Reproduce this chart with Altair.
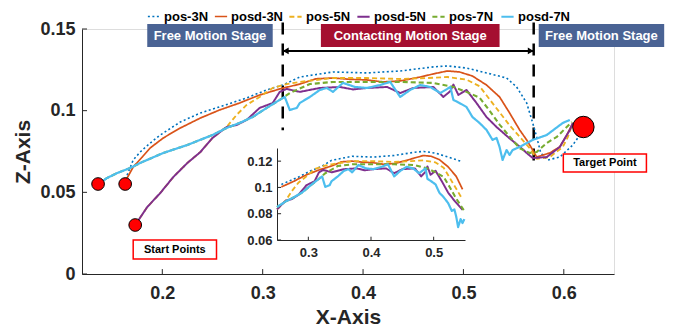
import altair as alt
import pandas as pd

# ---------------- data ----------------
series_names = ["pos-3N", "posd-3N", "pos-5N", "posd-5N", "pos-7N", "posd-7N"]

pos3_x = [0.163,0.165,0.171,0.178,0.188,0.198,0.218,0.238,0.257,0.284,0.304,0.320,0.337,0.370,0.404,0.437,0.470,0.484,0.503,0.523,0.543,0.553,0.563,0.569,0.573,0.577,0.584,0.596,0.609,0.616]
pos3_y = [0.0551,0.0606,0.0698,0.0747,0.0802,0.0851,0.0931,0.0986,0.1023,0.1078,0.1127,0.1157,0.1206,0.1237,0.1231,0.1243,0.1268,0.1274,0.1261,0.1231,0.1200,0.1145,0.1047,0.0925,0.0839,0.0741,0.0698,0.0716,0.0790,0.0851]

posd3_x = [0.163,0.165,0.171,0.180,0.188,0.201,0.218,0.238,0.257,0.277,0.297,0.317,0.337,0.353,0.370,0.387,0.404,0.420,0.437,0.447,0.457,0.470,0.484,0.496,0.509,0.523,0.536,0.546,0.556,0.563,0.569,0.573,0.586,0.596,0.603,0.608]
posd3_y = [0.0551,0.0588,0.0655,0.0716,0.0772,0.0833,0.0894,0.0955,0.1004,0.1047,0.1096,0.1133,0.1163,0.1195,0.1200,0.1192,0.1188,0.1176,0.1182,0.1194,0.1206,0.1225,0.1243,0.1237,0.1212,0.1157,0.1084,0.0986,0.0882,0.0821,0.0759,0.0716,0.0741,0.0778,0.0851,0.0912]

pos5_x = [0.173,0.185,0.198,0.211,0.225,0.238,0.250,0.264,0.274,0.284,0.297,0.310,0.324,0.337,0.370,0.404,0.437,0.464,0.484,0.503,0.516,0.526,0.536,0.546,0.556,0.566,0.573,0.586,0.599,0.604,0.609]
pos5_y = [0.0300,0.0410,0.0496,0.0594,0.0680,0.0747,0.0833,0.0900,0.0974,0.1035,0.1084,0.1139,0.1163,0.1176,0.1200,0.1200,0.1194,0.1200,0.1206,0.1190,0.1150,0.1070,0.0990,0.0910,0.0840,0.0770,0.0705,0.0716,0.0778,0.0839,0.0925]

posd5_x = [0.173,0.185,0.198,0.211,0.225,0.238,0.250,0.264,0.274,0.284,0.297,0.310,0.317,0.324,0.337,0.357,0.377,0.390,0.404,0.424,0.437,0.450,0.470,0.480,0.487,0.490,0.495,0.503,0.513,0.523,0.533,0.546,0.556,0.563,0.569,0.583,0.596,0.606,0.609]
posd5_y = [0.0300,0.0410,0.0496,0.0594,0.0680,0.0747,0.0833,0.0900,0.0912,0.0943,0.1017,0.1047,0.1115,0.1133,0.1115,0.1139,0.1145,0.1130,0.1139,0.1145,0.1108,0.1139,0.1145,0.1084,0.1120,0.1160,0.1096,0.1127,0.1047,0.0961,0.0900,0.0830,0.0780,0.0741,0.0710,0.0716,0.0778,0.0882,0.0925]

pos7_x = [0.136,0.145,0.155,0.168,0.178,0.201,0.225,0.250,0.264,0.277,0.290,0.304,0.317,0.327,0.347,0.370,0.404,0.437,0.470,0.490,0.503,0.516,0.526,0.536,0.549,0.556,0.566,0.573,0.583,0.593,0.598,0.608]
pos7_y = [0.0551,0.0588,0.0618,0.0649,0.0680,0.0741,0.0790,0.0851,0.0894,0.0925,0.0961,0.1017,0.1066,0.1108,0.1163,0.1176,0.1176,0.1176,0.1170,0.1145,0.1115,0.1080,0.1000,0.0915,0.0820,0.0770,0.0741,0.0747,0.0802,0.0839,0.0870,0.0931]

posd7_x = [0.136,0.145,0.155,0.168,0.178,0.201,0.225,0.250,0.264,0.277,0.290,0.304,0.317,0.322,0.327,0.334,0.337,0.347,0.357,0.364,0.370,0.380,0.392,0.404,0.417,0.427,0.437,0.447,0.457,0.467,0.477,0.487,0.490,0.496,0.503,0.509,0.516,0.523,0.529,0.533,0.536,0.539,0.543,0.546,0.549,0.556,0.569,0.583,0.599,0.606]
posd7_y = [0.0551,0.0588,0.0618,0.0649,0.0680,0.0741,0.0790,0.0851,0.0894,0.0925,0.0961,0.1017,0.1066,0.1084,0.1004,0.1017,0.1047,0.1084,0.1127,0.1139,0.1115,0.1170,0.1145,0.1139,0.1157,0.1176,0.1084,0.1127,0.1157,0.1145,0.1108,0.1145,0.1066,0.1047,0.1023,0.0961,0.0925,0.0882,0.0821,0.0833,0.0778,0.0698,0.0759,0.0729,0.0759,0.0778,0.0821,0.0851,0.0925,0.0943]

start_x = [0.136, 0.163, 0.173]
start_y = [0.0551, 0.0551, 0.0300]
target_x = [0.6195]
target_y = [0.090]

stage_names = ["Free Motion Stage", "Contacting Motion Stage", "Free Motion Stage"]
stage_kind = ["free", "contact", "free"]
stage_x1 = [0.185, 0.358, 0.575]
stage_x2 = [0.310, 0.536, 0.700]
stage_y1 = [0.139, 0.139, 0.139]
stage_y2 = [0.153, 0.153, 0.153]

stage_line_x = [0.32, 0.57]
stage_line_top = [0.154, 0.154]
stage_line_bottom = [0.088, 0.065]
arrow_y = 0.1366

note_names = ["Start Points", "Target Point"]
note_x1 = [0.171, 0.5995]
note_x2 = [0.254, 0.6823]
note_y1 = [0.0092, 0.0625]
note_y2 = [0.0208, 0.0735]

x_ticks = [0.2, 0.3, 0.4, 0.5, 0.6]
y_ticks = [0, 0.05, 0.1, 0.15]
xi_ticks = [0.3, 0.4, 0.5]
yi_ticks = [0.06, 0.08, 0.1, 0.12]

# ---------------- styles ----------------
colors = ["#0072BD", "#D95319", "#EDB120", "#7E2F8E", "#77AC30", "#4DBEEE"]
dashes = [[2, 2.5], [1, 0], [5, 3], [1, 0], [5, 3], [1, 0]]
widths = [1.6, 2.2, 1.5, 2.2, 1.5, 2.2]
FONT = "Liberation Sans"
AX = "#262626"
LABEL_EXPR = "'' + datum.value"

xs_list = [pos3_x, posd3_x, pos5_x, posd5_x, pos7_x, posd7_x]
ys_list = [pos3_y, posd3_y, pos5_y, posd5_y, pos7_y, posd7_y]
rows = []
for name, xv, yv in zip(series_names, xs_list, ys_list):
    assert len(xv) == len(yv), name
    for i, (a, b) in enumerate(zip(xv, yv)):
        rows.append({"series": name, "x": a, "y": b, "idx": i})
df = pd.DataFrame(rows)

xs = alt.Scale(domain=[0.12, 0.65], nice=False, zero=False)
ys = alt.Scale(domain=[0, 0.15], nice=False, zero=False)
x_axis = alt.Axis(values=x_ticks, labelExpr=LABEL_EXPR, ticks=False, grid=False,
                  domainColor=AX, domainWidth=1, labelColor=AX, labelFont=FONT,
                  labelFontWeight="bold", labelFontSize=18, labelPadding=10,
                  title="X-Axis", titleFont=FONT, titleFontWeight="bold",
                  titleFontSize=21, titleColor=AX, titleX=266, titleY=49,
                  titleBaseline="alphabetic", titleAlign="center")
y_axis = alt.Axis(values=y_ticks, labelExpr=LABEL_EXPR, ticks=False, grid=False,
                  domainColor=AX, domainWidth=1, labelColor=AX, labelFont=FONT,
                  labelFontWeight="bold", labelFontSize=18, labelPadding=7,
                  labelOverlap=False, labelFlush=False,
                  title="Z-Axis", titleFont=FONT, titleFontWeight="bold",
                  titleFontSize=21, titleColor=AX, titleAngle=270,
                  titleX=-53, titleY=122.5, titleBaseline="alphabetic",
                  titleAlign="center")


def X(f):
    return alt.X(f, type="quantitative", scale=xs, axis=x_axis)


def Y(f):
    return alt.Y(f, type="quantitative", scale=ys, axis=y_axis)


leg = alt.Legend(orient="none", legendX=65, legendY=-20, direction="horizontal",
                 title=None, symbolType="stroke", symbolSize=150,
                 symbolStrokeWidth=2, labelFont=FONT, labelFontWeight="bold",
                 labelFontSize=13, labelColor="#000000", labelOffset=3,
                 columnPadding=2, padding=0)
color_enc = alt.Color("series:N", scale=alt.Scale(domain=series_names, range=colors), legend=leg)
dash_enc = alt.StrokeDash("series:N", scale=alt.Scale(domain=series_names, range=dashes), legend=leg)
width_enc = alt.StrokeWidth("series:N", scale=alt.Scale(domain=series_names, range=widths), legend=None)

lines = alt.Chart(df).mark_line(strokeJoin="round").encode(
    x=X("x"), y=Y("y"), color=color_enc, strokeDash=dash_enc,
    strokeWidth=width_enc, order=alt.Order("idx:Q"))

vl_df = pd.DataFrame({"x": stage_line_x, "y1": stage_line_top, "y2": stage_line_bottom})
vlines = alt.Chart(vl_df).mark_rule(color="black", strokeWidth=2.5, strokeDash=[12, 9]).encode(
    x=X("x"), y=Y("y1"), y2="y2")

arrow_df = pd.DataFrame({"x1": [stage_line_x[0]], "x2": [stage_line_x[1]], "y": [arrow_y]})
arrow = alt.Chart(arrow_df).mark_rule(color="black", strokeWidth=2).encode(
    x=X("x1"), x2="x2", y=Y("y"))
head_df = pd.DataFrame({"x": [stage_line_x[0] + 0.003, stage_line_x[1] - 0.003],
                        "y": [arrow_y, arrow_y], "dir": ["l", "r"]})
heads = alt.Chart(head_df).mark_point(filled=True, color="black", size=45, opacity=1).encode(
    x=X("x"), y=Y("y"),
    shape=alt.Shape("dir:N", scale=alt.Scale(domain=["l", "r"], range=["triangle-left", "triangle-right"]), legend=None))

stage_df = pd.DataFrame({"name": stage_names, "kind": stage_kind, "x1": stage_x1,
                         "x2": stage_x2, "y1": stage_y1, "y2": stage_y2})
stage_rect = alt.Chart(stage_df).mark_rect().encode(
    x=X("x1"), x2="x2", y=Y("y1"), y2="y2",
    fill=alt.Fill("kind:N", scale=alt.Scale(domain=["free", "contact"], range=["#4A6394", "#A50F30"]), legend=None))
stage_text = alt.Chart(stage_df).transform_calculate(
    xm="(datum.x1 + datum.x2) / 2", ym="(datum.y1 + datum.y2) / 2"
).mark_text(color="white", font=FONT, fontWeight="bold", fontSize=13,
            align="center", baseline="middle").encode(x=X("xm"), y=Y("ym"), text="name:N")

note_df = pd.DataFrame({"name": note_names, "x1": note_x1, "x2": note_x2, "y1": note_y1, "y2": note_y2})
note_rect = alt.Chart(note_df).mark_rect(fill="white", stroke="#FF0000", strokeWidth=1.5).encode(
    x=X("x1"), x2="x2", y=Y("y1"), y2="y2")
note_text = alt.Chart(note_df).transform_calculate(
    xm="(datum.x1 + datum.x2) / 2", ym="(datum.y1 + datum.y2) / 2"
).mark_text(color="black", font=FONT, fontWeight="bold", fontSize=11,
            align="center", baseline="middle").encode(x=X("xm"), y=Y("ym"), text="name:N")

start_df = pd.DataFrame({"x": start_x, "y": start_y})
start_pts = alt.Chart(start_df).mark_circle(color="#FF0000", stroke="black", strokeWidth=1,
                                            size=160, opacity=1).encode(x=X("x"), y=Y("y"))
target_df = pd.DataFrame({"x": target_x, "y": target_y})
target_pt = alt.Chart(target_df).mark_circle(color="#FF0000", stroke="black", strokeWidth=1,
                                             size=460, opacity=1).encode(x=X("x"), y=Y("y"))

xt_df = pd.DataFrame({"v": x_ticks, "lo": 0.0, "hi": 0.003})
xt = alt.Chart(xt_df).mark_rule(color=AX, strokeWidth=1).encode(x=X("v"), y=Y("lo"), y2="hi")
yt_df = pd.DataFrame({"v": y_ticks, "lo": 0.12, "hi": 0.125})
yt = alt.Chart(yt_df).mark_rule(color=AX, strokeWidth=1).encode(y=Y("v"), x=X("lo"), x2="hi")

main = alt.layer(vlines, lines, arrow, heads, stage_rect, stage_text,
                 note_rect, note_text, start_pts, target_pt, xt, yt)

# ---------------- inset ----------------
xsi = alt.Scale(domain=[0.25, 0.55], range=[195, 383], nice=False, zero=False)
ysi = alt.Scale(domain=[0.06, 0.13], range=[211, 119], nice=False, zero=False)
xi_axis = alt.Axis(orient="bottom", offset=-34, values=xi_ticks, labelExpr=LABEL_EXPR, ticks=False,
                   grid=False, domainColor=AX, labelColor=AX, labelFont=FONT,
                   labelFontWeight="bold", labelFontSize=13, labelPadding=6, title=None)
yi_axis = alt.Axis(orient="left", offset=-195, values=yi_ticks, labelExpr=LABEL_EXPR, ticks=False,
                   grid=False, domainColor=AX, labelColor=AX, labelFont=FONT,
                   labelFontWeight="bold", labelFontSize=13, labelPadding=5, title=None)


def XI(f):
    return alt.X(f, type="quantitative", scale=xsi, axis=xi_axis)


def YI(f):
    return alt.Y(f, type="quantitative", scale=ysi, axis=yi_axis)


inset_lines = alt.Chart(df).transform_filter(
    "datum.x >= 0.25 && datum.x <= 0.55"
).mark_line(strokeJoin="round").encode(
    x=XI("x"), y=YI("y"), color=color_enc, strokeDash=dash_enc,
    strokeWidth=width_enc, order=alt.Order("idx:Q"))

xit_df = pd.DataFrame({"v": xi_ticks, "lo": 0.06, "hi": 0.0625})
xit = alt.Chart(xit_df).mark_rule(color=AX, strokeWidth=1).encode(x=XI("v"), y=YI("lo"), y2="hi")
yit_df = pd.DataFrame({"v": yi_ticks, "lo": 0.25, "hi": 0.2565})
yit = alt.Chart(yit_df).mark_rule(color=AX, strokeWidth=1).encode(y=YI("v"), x=XI("lo"), x2="hi")

inset = alt.layer(inset_lines, xit, yit)

chart = alt.layer(main, inset).resolve_scale(
    x="independent", y="independent"
).properties(
    width=532, height=245,
    autosize=alt.AutoSizeParams(type="none"),
    padding={"left": 74, "top": 21, "right": 59, "bottom": 52},
).configure_view(stroke=None).configure(font=FONT)

chart.save("out.html", embed_options={"renderer": "svg", "actions": False})
